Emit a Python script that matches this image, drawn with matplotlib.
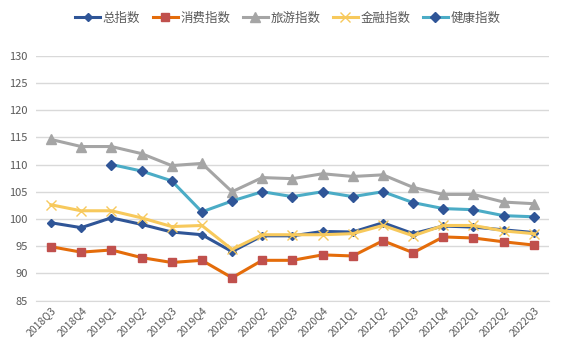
import matplotlib.pyplot as plt
import numpy as np

plt.rcParams['font.family'] = ['Noto Sans CJK SC', 'DejaVu Sans']

quarters = ['2018Q3', '2018Q4', '2019Q1', '2019Q2', '2019Q3', '2019Q4',
            '2020Q1', '2020Q2', '2020Q3', '2020Q4', '2021Q1', '2021Q2',
            '2021Q3', '2021Q4', '2022Q1', '2022Q2', '2022Q3']
total = [99.3, 98.4, 100.2, 99.0, 97.6, 97.1, 94.0, 96.9, 96.9, 97.7,
         97.6, 99.3, 97.3, 98.7, 98.5, 98.0, 97.5]
consume = [94.9, 93.9, 94.3, 92.9, 92.0, 92.4, 89.2, 92.4, 92.4, 93.4,
           93.2, 96.0, 93.8, 96.7, 96.5, 95.8, 95.2]
travel = [114.6, 113.3, 113.3, 112.0, 109.8, 110.2, 105.0, 107.6, 107.4, 108.3,
          107.8, 108.1, 105.8, 104.5, 104.5, 103.1, 102.8]
finance = [102.6, 101.5, 101.5, 100.2, 98.6, 98.8, 94.4, 97.1, 97.1, 97.1,
           97.3, 98.8, 96.9, 98.8, 98.8, 97.8, 97.3]
health = [np.nan, np.nan, 110.0, 108.8, 107.0, 101.3, 103.3, 105.0, 104.1, 105.0,
          104.1, 105.0, 103.0, 101.9, 101.7, 100.6, 100.4]

x = np.arange(len(quarters))

fig = plt.figure(figsize=(5.7, 3.52), dpi=100)
ax = fig.add_axes([0.063, 0.146, 0.900, 0.696])

ax.plot(x, total, color='#2F5597', lw=2.2, marker='D', ms=4.5,
        mfc='#2F5597', mec='#2F5597', label='总指数')
ax.plot(x, consume, color='#E46C0A', lw=2.2, marker='s', ms=6,
        mfc='#C0504D', mec='#C0504D', label='消费指数')
ax.plot(x, travel, color='#A5A5A5', lw=2.2, marker='^', ms=7,
        mfc='#A5A5A5', mec='#A5A5A5', label='旅游指数')
ax.plot(x, finance, color='#F7C95C', lw=2.2, marker='x', ms=7, mew=1,
        mec='#F7C95C', label='金融指数')
ax.plot(x, health, color='#4BACC6', lw=2.2, marker='D', ms=5.5,
        mfc='#2F5597', mec='#2F5597', label='健康指数')

ax.set_xlim(-0.5, len(quarters) - 0.5)
ax.set_ylim(85, 130)
ax.set_yticks(np.arange(85, 131, 5))
ax.set_xticks(x)
ax.set_xticklabels(quarters, rotation=45, ha='right', rotation_mode='anchor',
                   fontsize=7.5, color='#595959')
ax.tick_params(axis='y', labelsize=8, labelcolor='#595959', length=0, pad=6)
ax.tick_params(axis='x', length=0, pad=3)
ax.grid(axis='y', color='#D9D9D9', lw=1)
ax.set_axisbelow(True)
for s in ['top', 'right', 'left']:
    ax.spines[s].set_visible(False)
ax.spines['bottom'].set_color('#D9D9D9')

fig.legend(loc='center', bbox_to_anchor=(0.505, 0.948), ncol=5, frameon=False,
           fontsize=9, handlelength=2.0, columnspacing=1.0, handletextpad=0.2,
           labelcolor='#595959')

fig.savefig('out.png', dpi=100)
